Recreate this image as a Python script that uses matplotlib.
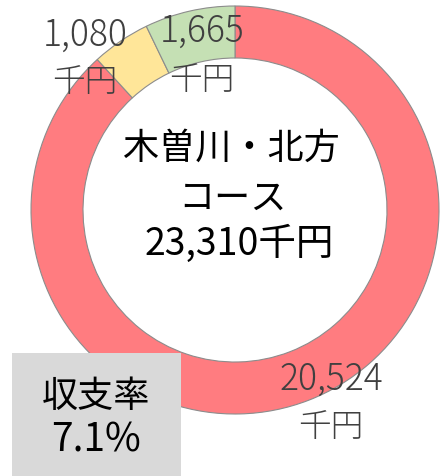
import matplotlib.pyplot as plt
from matplotlib.patches import Rectangle

plt.rcParams['font.family'] = ['Noto Sans CJK JP', 'DejaVu Sans']

# Values (千円)
labels = ['20,524\n千円', '1,080\n千円', '1,665\n千円']
values = [20524, 1080, 1665]
colors = ['#FF7C80', '#FFE699', '#C5E0B4']
title_lines = ['木曽川・北方', 'コース', '23,310千円']
ratio_lines = ['収支率', '7.1%']

H = 477
fig = plt.figure(figsize=(4.4, 4.77), dpi=100)
ax = fig.add_axes([0, 0, 1, 1])

ax.pie(values, colors=colors, startangle=90, counterclock=False,
       center=(235, H - 211), radius=204, frame=True,
       wedgeprops=dict(width=52, edgecolor='#8c8c8c', linewidth=0.8))
ax.set_xlim(0, 440)
ax.set_ylim(0, H)
ax.set_aspect('equal')
ax.axis('off')

# value labels (pixel positions of each line)
label_pos = [(331, 380, 428), (85, 35, 83), (202, 32, 81)]
for lab, (x, y1, y2) in zip(labels, label_pos):
    num, unit = lab.split('\n')
    ax.text(x, H - y1, num, ha='center', va='center', fontsize=25.5,
            color='#404040', fontweight='light')
    ax.text(x, H - y2, unit, ha='center', va='center', fontsize=23.5,
            color='#404040', fontweight='light')

# center title
for line, y, x, fs in zip(title_lines, [149, 199, 244], [231, 232, 239], [26, 26, 27]):
    ax.text(x, H - y, line, ha='center', va='center', fontsize=fs, color='black')

# ratio box
ax.add_patch(Rectangle((12, 0), 169, H - 354, facecolor='#D9D9D9', edgecolor='none', zorder=3))
for line, y, fs in zip(ratio_lines, [397, 441], [26, 28]):
    ax.text(96, H - y, line, ha='center', va='center', fontsize=fs, color='black', zorder=4)

fig.savefig('out.png', dpi=100)
